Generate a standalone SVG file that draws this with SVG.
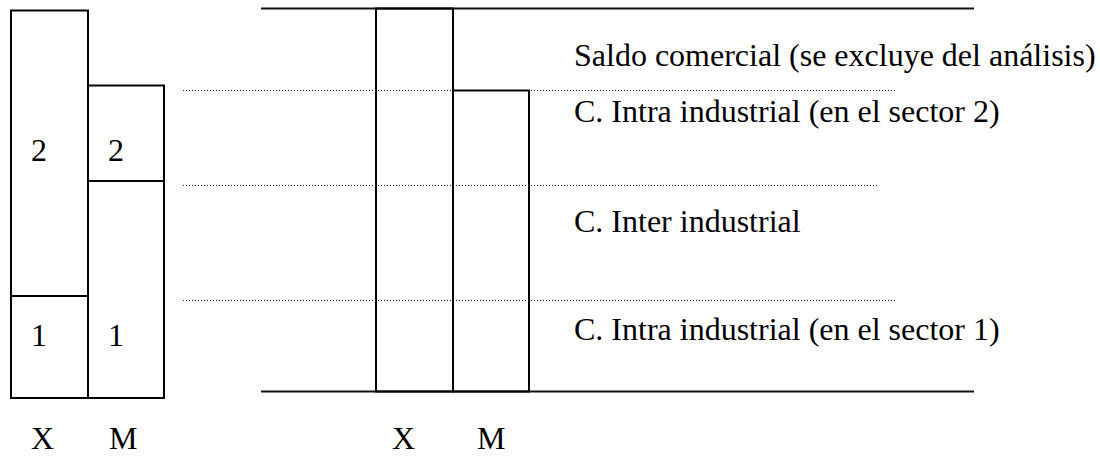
<svg xmlns="http://www.w3.org/2000/svg" width="1100" height="457" viewBox="0 0 1100 457">
<style>
.box{fill:none;stroke:#000;stroke-width:2}
.rule{stroke:#111;stroke-width:2}
.dot{stroke:#222;stroke-width:1.2;stroke-dasharray:1 2}
text{font-family:"Liberation Serif","Times New Roman",serif;font-size:32px;fill:#000}
</style>
<rect width="1100" height="457" fill="#fff"/>
<g id="connectors">
<line class="rule" x1="261" y1="8.5" x2="974" y2="8.5"/>
<line class="rule" x1="261" y1="391.5" x2="974" y2="391.5"/>
<line class="dot" x1="183" y1="90.5" x2="896" y2="90.5"/>
<line class="dot" x1="183" y1="185.5" x2="878" y2="185.5"/>
<line class="dot" x1="183" y1="300.5" x2="896" y2="300.5"/>
</g>
<g id="left-X">
<rect class="box" x="11" y="10.5" width="77" height="387.5"/>
<line class="box" x1="11" y1="296" x2="88" y2="296"/>
<text x="31" y="161">2</text>
<text x="31" y="346">1</text>
<text x="31" y="449">X</text>
</g>
<g id="left-M">
<rect class="box" x="88" y="85.5" width="76" height="312.5"/>
<line class="box" x1="88" y1="181" x2="164" y2="181"/>
<text x="108" y="161">2</text>
<text x="108" y="346">1</text>
<text x="109" y="449">M</text>
</g>
<g id="right-X">
<rect class="box" x="376" y="8.5" width="77" height="383"/>
<text x="392" y="449">X</text>
</g>
<g id="right-M">
<rect class="box" x="453" y="90.5" width="76" height="301"/>
<text x="477" y="449">M</text>
</g>
<g id="labels">
<text x="574" y="66">Saldo comercial (se excluye del análisis)</text>
<text x="574" y="122">C. Intra industrial (en el sector 2)</text>
<text x="574" y="232">C. Inter industrial</text>
<text x="574" y="340">C. Intra industrial (en el sector 1)</text>
</g>
</svg>
